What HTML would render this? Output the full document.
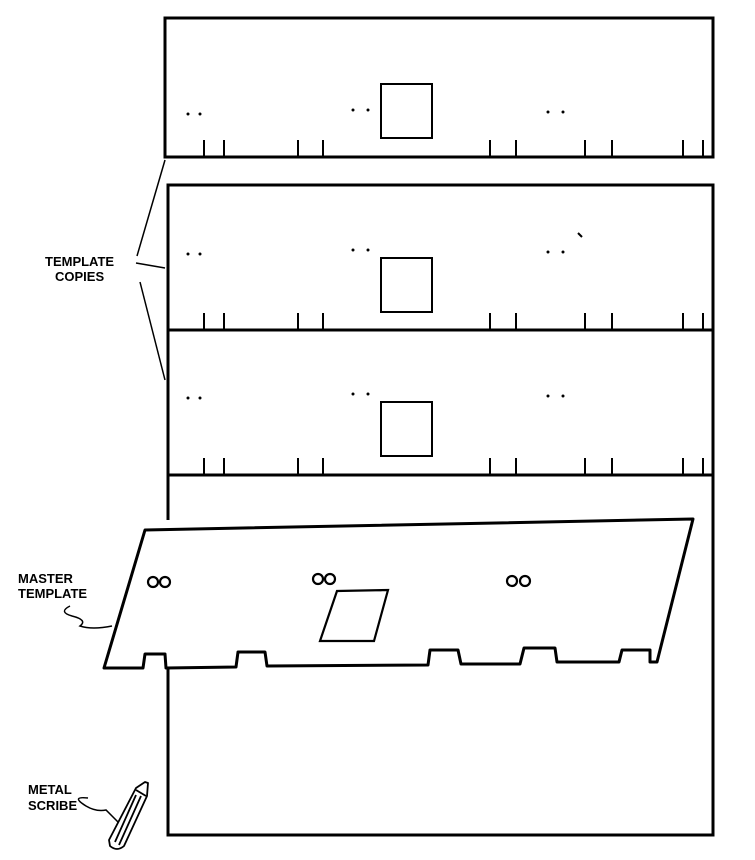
<!DOCTYPE html>
<html><head><style>body{margin:0;background:#fff}svg{display:block}text{font-family:"Liberation Sans",sans-serif;font-weight:bold;font-size:13px;fill:#000}</style></head>
<body>
<svg width="755" height="860" viewBox="0 0 755 860" xmlns="http://www.w3.org/2000/svg">
<g fill="none" stroke="#000" stroke-width="3">
<rect x="165" y="18" width="548" height="139"/>
<polyline points="168,520 168,185 713,185 713,835 168,835 168,667"/>
<line x1="168" y1="330" x2="713" y2="330"/>
<line x1="168" y1="475" x2="713" y2="475"/>
</g>
<g fill="none" stroke="#000" stroke-width="2">
<rect x="381" y="84" width="51" height="54"/>
<rect x="381" y="258" width="51" height="54"/>
<rect x="381" y="402" width="51" height="54"/>
<path d="M204,157v-17M224,157v-17M298,157v-17M323,157v-17M490,157v-17M516,157v-17M585,157v-17M612,157v-17M683,157v-17M703,157v-17"/>
<path d="M204,330v-17M224,330v-17M298,330v-17M323,330v-17M490,330v-17M516,330v-17M585,330v-17M612,330v-17M683,330v-17M703,330v-17"/>
<path d="M204,475v-17M224,475v-17M298,475v-17M323,475v-17M490,475v-17M516,475v-17M585,475v-17M612,475v-17M683,475v-17M703,475v-17"/>
</g>
<g fill="#000">
<circle cx="188" cy="114" r="1.5"/><circle cx="200" cy="114" r="1.5"/><circle cx="353" cy="110" r="1.5"/><circle cx="368" cy="110" r="1.5"/><circle cx="548" cy="112" r="1.5"/><circle cx="563" cy="112" r="1.5"/>
<circle cx="188" cy="254" r="1.5"/><circle cx="200" cy="254" r="1.5"/><circle cx="353" cy="250" r="1.5"/><circle cx="368" cy="250" r="1.5"/><circle cx="548" cy="252" r="1.5"/><circle cx="563" cy="252" r="1.5"/>
<circle cx="188" cy="398" r="1.5"/><circle cx="200" cy="398" r="1.5"/><circle cx="353" cy="394" r="1.5"/><circle cx="368" cy="394" r="1.5"/><circle cx="548" cy="396" r="1.5"/><circle cx="563" cy="396" r="1.5"/>
</g>
<path d="M578,233l4,4" stroke="#000" stroke-width="2"/>
<path d="M145,530 L693,519 L657,662 L650,662 L650,650 L622,650 L619,662 L557,662 L555,648 L524,648 L520,664 L461,664 L458,650 L430,650 L428,665 L267,666 L265,652 L238,652 L236,667 L166,668 L165,654 L145,654 L143,668 L104,668 Z" fill="#fff" stroke="#000" stroke-width="3" stroke-linejoin="round"/>
<g fill="none" stroke="#000" stroke-width="2.2">
<circle cx="153" cy="582" r="5"/><circle cx="165" cy="582" r="5"/>
<circle cx="318" cy="579" r="5"/><circle cx="330" cy="579" r="5"/>
<circle cx="512" cy="581" r="5"/><circle cx="525" cy="581" r="5"/>
<polygon points="337,591 388,590 374,641 320,641"/>
</g>
<g fill="none" stroke="#000" stroke-width="1.5">
<line x1="165" y1="160" x2="137" y2="256"/>
<line x1="136" y1="263" x2="165" y2="268"/>
<line x1="140" y1="282" x2="165" y2="380"/>
<path d="M70,606 Q58,612 72,616 Q88,620 80,626 Q92,630 112,626"/>
<path d="M88,798 Q70,796 86,806 Q96,812 106,810 Q112,816 118,822"/>
</g>
<text x="45" y="266">TEMPLATE</text>
<text x="55" y="281">COPIES</text>
<text x="18" y="583">MASTER</text>
<text x="18" y="598">TEMPLATE</text>
<text x="28" y="794">METAL</text>
<text x="28" y="810">SCRIBE</text>
<g fill="#fff" stroke="#000" stroke-width="1.8" stroke-linejoin="round">
<path d="M136,788 L145,782 L148,783 L147,796 L124,846 Q117,852 110,846 L109,840 Z"/>
<path d="M136,790 L146,796" fill="none"/>
<path d="M136,795 L115,842 M141,796 L119,845" fill="none"/>
</g>
</svg>
</body></html>
